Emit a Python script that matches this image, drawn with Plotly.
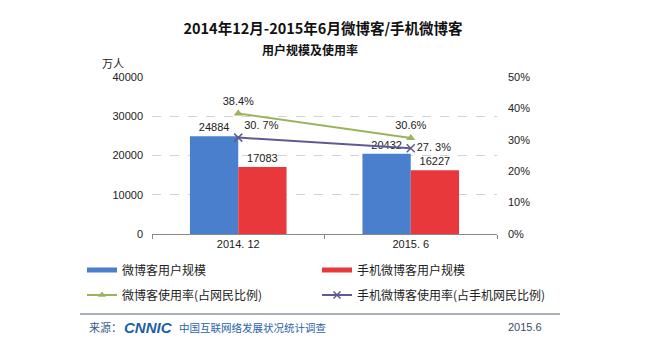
import plotly.graph_objects as go

categories = ["2014. 12", "2015. 6"]
weibo_users = [24884, 20432]
mobile_weibo_users = [17083, 16227]
weibo_rate = [38.4, 30.6]
mobile_weibo_rate = [30.7, 27.3]
weibo_rate_labels = ["38.4%", "30.6%"]
mobile_rate_labels = ["30. 7%", "27. 3%"]
left_ticks = [0, 10000, 20000, 30000, 40000]
right_ticks = [0, 10, 20, 30, 40, 50]

BLUE = "#4A7FCD"
RED = "#E8383C"
GREEN = "#9BB45C"
PURPLE = "#5E5A92"
FONT = "Liberation Sans, Noto Sans CJK SC, sans-serif"
CJK = "Noto Sans CJK SC, sans-serif"

# page body margin offset (screen = figure + OFF)
OFF = 8
W, H = 669, 359
# plot area in screen coordinates
SX0, SX1, SY0, SY1 = 152, 497, 77, 234
L = SX0 - OFF
T = SY0 - OFF
R = W - (SX1 - OFF)
B = H - (SY1 - OFF)
PW = SX1 - SX0
PH = SY1 - SY0

def px(x):
    return (x - SX0) / PW

def py(y):
    return (SY1 - y) / PH

fig = go.Figure()
fig.add_trace(go.Bar(x=categories, y=weibo_users, marker=dict(color=BLUE, line=dict(width=0)),
                     text=[str(v) for v in weibo_users], textposition="outside",
                     textfont=dict(size=11, color="#222"), cliponaxis=False, showlegend=False,
                     name="微博客用户规模"))
fig.add_trace(go.Bar(x=categories, y=mobile_weibo_users, marker=dict(color=RED, line=dict(width=0)),
                     text=[str(v) for v in mobile_weibo_users], textposition="outside",
                     textfont=dict(size=11, color="#222"), cliponaxis=False, showlegend=False,
                     name="手机微博客用户规模"))
fig.add_trace(go.Scatter(x=categories, y=[v / 100 for v in weibo_rate], yaxis="y2",
                         mode="lines+markers+text", line=dict(color=GREEN, width=2),
                         marker=dict(symbol="triangle-up", size=8, color=GREEN),
                         text=weibo_rate_labels, textposition="top center",
                         textfont=dict(size=11, color="#222"), showlegend=False, cliponaxis=False))
fig.add_trace(go.Scatter(x=categories, y=[v / 100 for v in mobile_weibo_rate], yaxis="y2",
                         mode="lines+markers+text", line=dict(color=PURPLE, width=2),
                         marker=dict(symbol="x-thin", size=8, color=PURPLE, line=dict(width=1.5, color=PURPLE)),
                         text=mobile_rate_labels, textposition=["top right", "middle right"],
                         textfont=dict(size=11, color="#222"), showlegend=False, cliponaxis=False))

# legend-only traces
fig.add_trace(go.Scatter(x=[None], y=[None], mode="lines", line=dict(color=BLUE, width=5),
                         name="微博客用户规模", legend="legend"))
fig.add_trace(go.Scatter(x=[None], y=[None], mode="lines", line=dict(color=RED, width=5),
                         name="手机微博客用户规模", legend="legend"))
fig.add_trace(go.Scatter(x=[None], y=[None], mode="lines+markers", line=dict(color=GREEN, width=2),
                         marker=dict(symbol="triangle-up", size=7, color=GREEN),
                         name="微博客使用率(占网民比例)", legend="legend2"))
fig.add_trace(go.Scatter(x=[None], y=[None], mode="lines+markers", line=dict(color=PURPLE, width=2),
                         marker=dict(symbol="x-thin", size=7, color=PURPLE, line=dict(width=1.5, color=PURPLE)),
                         name="手机微博客使用率(占手机网民比例)", legend="legend2"))

legend_common = dict(orientation="h", xref="paper", yref="paper", xanchor="left", yanchor="middle",
                     entrywidth=190, font=dict(size=12, family=CJK, color="#222"),
                     bgcolor="rgba(0,0,0,0)", itemclick=False, traceorder="normal")

fig.update_layout(
    width=W, height=H,
    margin=dict(l=L, r=R, t=T, b=B, autoexpand=False),
    paper_bgcolor="white", plot_bgcolor="white",
    font=dict(family=FONT, size=11, color="#222"),
    barmode="group", bargap=0.44, bargroupgap=0.0,
    title=dict(text="<b>2014年12月-2015年6月微博客/手机微博客</b>", x=(323 - OFF) / W, xanchor="center",
               y=1 - (28.5 - OFF) / H, yanchor="middle", yref="container",
               font=dict(size=14.5, family=CJK, color="#111")),
    xaxis=dict(type="category", showgrid=False, showline=True, linecolor="#888", linewidth=1,
               ticks="outside", ticklen=4, tickcolor="#888", tickson="boundaries",
               tickfont=dict(size=11, color="#222")),
    yaxis=dict(range=[0, 40000], tickvals=left_ticks, ticktext=[str(v) for v in left_ticks],
               showgrid=True, gridcolor="#d2d2d2",
               griddash="dash", gridwidth=1, zeroline=False, showline=False,
               ticks="", ticklabelstandoff=8, tickfont=dict(size=11, color="#222")),
    yaxis2=dict(range=[0, 0.5], tickvals=[v / 100 for v in right_ticks],
                ticktext=[f"{v}%" for v in right_ticks], overlaying="y", side="right",
                showgrid=False, zeroline=False, showline=False, ticks="", ticklabelstandoff=10,
                tickfont=dict(size=11, color="#222")),
    legend=dict(x=px(82), y=py(270), **legend_common),
    legend2=dict(x=px(82), y=py(295), **legend_common),
)

fig.add_annotation(text="<b>用户规模及使用率</b>", xref="paper", yref="paper", x=px(310), y=py(49),
                   showarrow=False, font=dict(size=12, family=CJK, color="#111"), xanchor="center", yanchor="middle")
fig.add_annotation(text="万人", xref="paper", yref="paper", x=px(113), y=py(63),
                   showarrow=False, font=dict(size=11, family=CJK, color="#222"), xanchor="center", yanchor="middle")

# footer
fig.add_shape(type="line", xref="paper", yref="paper", x0=px(80), x1=px(560),
              y0=py(314), y1=py(314), line=dict(color="#8a96a8", width=1.5))
fy = py(327)
fig.add_annotation(text="来源：", xref="paper", yref="paper", x=px(87), y=fy, xanchor="left", yanchor="middle",
                   showarrow=False, font=dict(size=11, family=CJK, color="#3a5a8a"))
fig.add_annotation(text="<b><i>CNNIC</i></b>", xref="paper", yref="paper", x=px(122), y=fy, xanchor="left", yanchor="middle",
                   showarrow=False, font=dict(size=15, family="Liberation Sans", color="#1f5fa8"))
fig.add_annotation(text="中国互联网络发展状况统计调查", xref="paper", yref="paper", x=px(177), y=fy, xanchor="left", yanchor="middle",
                   showarrow=False, font=dict(size=10.5, family=CJK, color="#2a63a8"))
fig.add_annotation(text="2015.6", xref="paper", yref="paper", x=px(544), y=fy, xanchor="right", yanchor="middle",
                   showarrow=False, font=dict(size=11, family=FONT, color="#3a4a6a"))

fig.write_html("out.html")
